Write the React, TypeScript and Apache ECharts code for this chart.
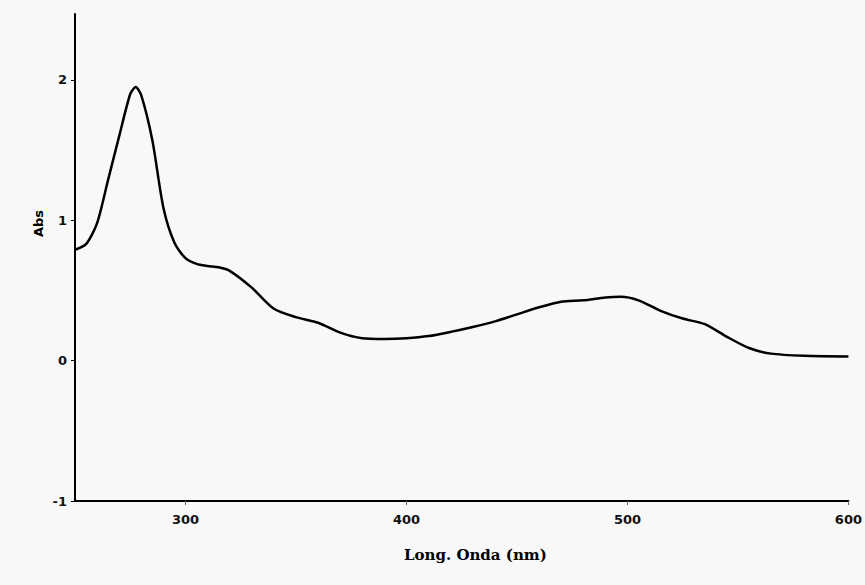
import React, { useEffect, useRef } from "react";
import * as echarts from "echarts";

const wavelengths = [250, 255, 260, 265, 270, 275, 277.5, 280, 285, 290, 295, 300, 305, 310, 315, 320, 330, 340, 350, 360, 370, 380, 390, 400, 410, 420, 430, 440, 450, 460, 470, 480, 490, 497, 505, 515, 525, 535, 545, 555, 565, 580, 600];
const absorbance = [0.79, 0.83, 0.98, 1.29, 1.6, 1.9, 1.95, 1.89, 1.57, 1.09, 0.84, 0.73, 0.69, 0.675, 0.665, 0.64, 0.52, 0.37, 0.31, 0.27, 0.2, 0.16, 0.155, 0.16, 0.175, 0.205, 0.24, 0.28, 0.33, 0.38, 0.42, 0.43, 0.45, 0.455, 0.43, 0.355, 0.3, 0.26, 0.17, 0.09, 0.05, 0.035, 0.03];
const xTicks = [300, 400, 500, 600];
const yTicks = [-1, 0, 1, 2];
const xTitle = "Long. Onda (nm)";
const yTitle = "Abs";

export default function App() {
  const ref = useRef<HTMLDivElement>(null);
  useEffect(() => {
    if (!ref.current) return;
    const chart = echarts.init(ref.current, null, { renderer: "svg" });
    const data = wavelengths.map((w, i) => [w, absorbance[i]]);
    const labelFont = {
      color: "#111",
      fontFamily: "DejaVu Sans",
      fontWeight: "bold",
      fontSize: 13,
    };
    chart.setOption({
      animation: false,
      backgroundColor: "#f8f8f8",
      grid: { left: 75, right: 15, top: 14, bottom: 84 },
      xAxis: {
        type: "value",
        min: 250,
        max: 600,
        axisLine: { onZero: false, lineStyle: { color: "#000", width: 2 } },
        axisTick: { show: true, length: 4, customValues: xTicks, lineStyle: { color: "#666" } },
        axisLabel: { ...labelFont, margin: 12, customValues: xTicks },
        splitLine: { show: false },
      },
      yAxis: {
        type: "value",
        min: -1,
        max: 2.47,
        axisLine: { show: true, onZero: false, lineStyle: { color: "#000", width: 2 } },
        axisTick: { show: true, length: 4, customValues: yTicks, lineStyle: { color: "#000" } },
        axisLabel: { ...labelFont, margin: 8, customValues: yTicks },
        splitLine: { show: false },
      },
      series: [
        {
          type: "line",
          data,
          smooth: 0.25,
          showSymbol: false,
          lineStyle: { color: "#000", width: 2.5 },
        },
      ],
      graphic: [
        {
          type: "text",
          left: 404,
          top: 547,
          style: {
            text: xTitle,
            fill: "#000",
            font: "bold 15px 'DejaVu Serif'",
          },
        },
        {
          type: "text",
          x: 32,
          y: 237,
          rotation: Math.PI / 2,
          style: {
            text: yTitle,
            fill: "#000",
            font: "bold 13px 'DejaVu Sans'",
          },
        },
      ],
    });
    return () => chart.dispose();
  }, []);
  return (
    <div
      ref={ref}
      style={{ position: "fixed", left: 0, top: 0, width: 865, height: 585 }}
    />
  );
}
